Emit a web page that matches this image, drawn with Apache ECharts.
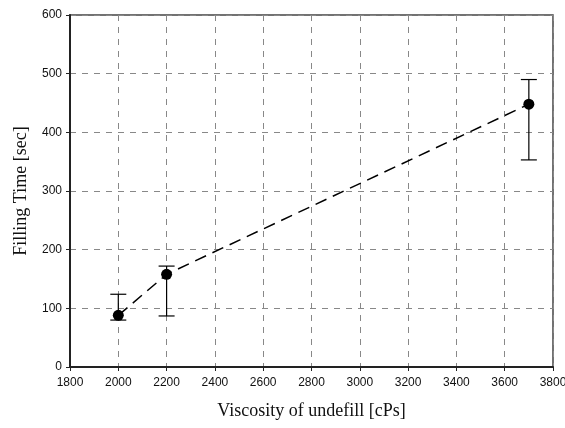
<!DOCTYPE html>
<html>
<head>
<meta charset="utf-8">
<script src="https://cdn.jsdelivr.net/npm/echarts@6/dist/echarts.min.js"></script>
<style>
  html, body { margin: 0; padding: 0; background: #fff; }
  #chart { width: 565px; height: 428px; }
</style>
</head>
<body>
<div id="chart"></div>
<script>
// viscosity [cPs] and filling time [sec]
let viscosity = [2000, 2200, 3700];
let fillTime = [88, 158, 448];
let errLow = [80, 87, 353];
let errHigh = [124, 172, 490];

let chart = echarts.init(document.getElementById('chart'));

let errData = viscosity.map(function (v, i) {
  return [v, errLow[i], errHigh[i]];
});

chart.setOption({
  backgroundColor: '#fff',
  animation: false,
  grid: {
    left: 70,
    right: 12,
    top: 15,
    bottom: 61,
    outerBoundsMode: 'none',
    containLabel: false,
    show: true,
    borderColor: '#444',
    borderWidth: 1.5
  },
  xAxis: {
    type: 'value',
    min: 1800,
    max: 3800,
    interval: 200,
    name: 'Viscosity of undefill [cPs]',
    nameLocation: 'middle',
    nameGap: 35,
    nameTextStyle: { fontFamily: 'Liberation Serif', fontSize: 18, color: '#111' },
    axisLine: { show: true, onZero: false, lineStyle: { color: '#222', width: 2 } },
    axisTick: { show: true, inside: false, length: 4, lineStyle: { color: '#222' } },
    axisLabel: {
      fontFamily: 'Liberation Sans', fontSize: 12, color: '#111', margin: 10,
      formatter: function (v) { return String(v); }
    },
    splitLine: { show: true, lineStyle: { color: '#888', type: [6, 6], width: 1 } }
  },
  yAxis: {
    type: 'value',
    min: 0,
    max: 600,
    interval: 100,
    name: 'Filling Time [sec]',
    nameLocation: 'middle',
    nameGap: 40,
    nameTextStyle: { fontFamily: 'Liberation Serif', fontSize: 18, color: '#111' },
    axisLine: { show: true, lineStyle: { color: '#222', width: 2 } },
    axisTick: { show: true, inside: false, length: 4, lineStyle: { color: '#222' } },
    axisLabel: { fontFamily: 'Liberation Sans', fontSize: 12, color: '#111', margin: 8 },
    splitLine: { show: true, lineStyle: { color: '#888', type: [6, 6], width: 1 } }
  },
  series: [
    {
      type: 'line',
      data: viscosity.map(function (v, i) { return [v, fillTime[i]]; }),
      symbol: 'circle',
      symbolSize: 11,
      itemStyle: { color: '#000' },
      lineStyle: { color: '#000', width: 1.5, type: [12, 7] },
      z: 3
    },
    {
      type: 'custom',
      data: errData,
      z: 2,
      renderItem: function (params, api) {
        let x = api.value(0);
        let lo = api.coord([x, api.value(1)]);
        let hi = api.coord([x, api.value(2)]);
        let hw = 8;
        let st = { stroke: '#000', lineWidth: 1.2 };
        return {
          type: 'group',
          children: [
            { type: 'line', shape: { x1: hi[0], y1: hi[1], x2: lo[0], y2: lo[1] }, style: st },
            { type: 'line', shape: { x1: hi[0] - hw, y1: hi[1], x2: hi[0] + hw, y2: hi[1] }, style: st },
            { type: 'line', shape: { x1: lo[0] - hw, y1: lo[1], x2: lo[0] + hw, y2: lo[1] }, style: st }
          ]
        };
      }
    }
  ]
});
</script>
</body>
</html>
